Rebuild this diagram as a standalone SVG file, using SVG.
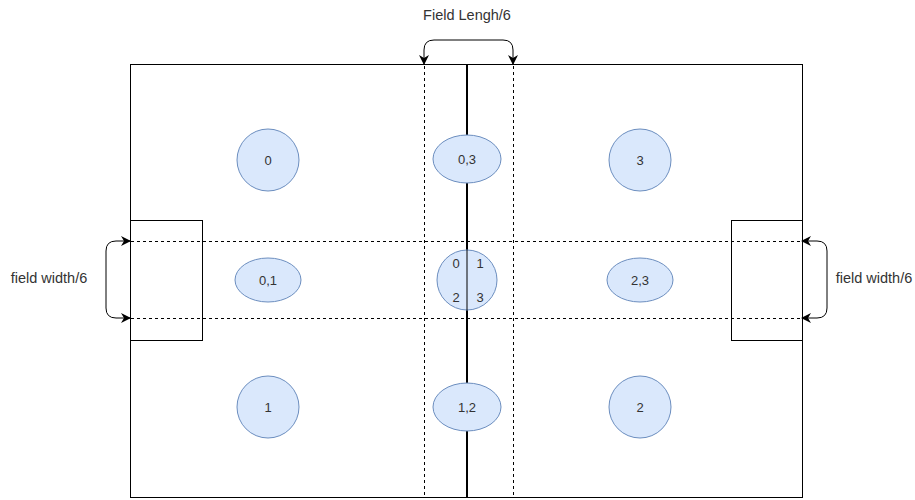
<svg xmlns="http://www.w3.org/2000/svg" width="915" height="500" viewBox="0 0 915 500">
<defs>
<style>
.ln{fill:none;stroke:#000;stroke-width:1}
.dash{fill:none;stroke:#000;stroke-width:1;stroke-dasharray:3 3}
.nd{fill:#dae8fc;stroke:#6c8ebf;stroke-width:1}
.t{font-family:"Liberation Sans",Arial,sans-serif;font-size:13px;fill:#333;text-anchor:middle;dominant-baseline:central}
.lbl{font-family:"Liberation Sans",Arial,sans-serif;font-size:14.5px;fill:#333;text-anchor:middle;dominant-baseline:central}
</style>
<marker id="ah" viewBox="0 0 10 10" refX="9" refY="5" markerWidth="10" markerHeight="10" orient="auto-start-reverse" markerUnits="userSpaceOnUse">
<path d="M0,0 L10,5 L0,10 L3,5 Z" fill="#000"/>
</marker>
</defs>
<rect width="915" height="500" fill="#fff"/>
<g id="field">
<rect x="130.5" y="64.5" width="672" height="433" class="ln"/>
<rect x="130.5" y="220.5" width="72" height="120" class="ln"/>
<rect x="731.5" y="220.5" width="71" height="120" class="ln"/>
<line x1="467" y1="64" x2="467" y2="497" stroke="#000" stroke-width="2"/>
</g>
<g id="connectors">
<line x1="424.5" y1="66" x2="424.5" y2="497" class="dash"/>
<line x1="513.5" y1="66" x2="513.5" y2="497" class="dash"/>
<line x1="131" y1="241.5" x2="802" y2="241.5" class="dash"/>
<line x1="131" y1="318.5" x2="802" y2="318.5" class="dash"/>
<path d="M424,64 L424,50 Q424,40 434,40 L503,40 Q513,40 513,50 L513,64" class="ln" marker-start="url(#ah)" marker-end="url(#ah)"/>
<path d="M130,241 L116,241 Q106,241 106,251 L106,308 Q106,318 116,318 L130,318" class="ln" marker-start="url(#ah)" marker-end="url(#ah)"/>
<path d="M802,241 L817,241 Q827,241 827,251 L827,308 Q827,318 817,318 L802,318" class="ln" marker-start="url(#ah)" marker-end="url(#ah)"/>
</g>
<g id="label-top"><text x="467" y="15" class="lbl">Field Lengh/6</text></g>
<g id="label-left"><text x="49" y="278" class="lbl">field width/6</text></g>
<g id="label-right"><text x="874" y="278" class="lbl">field width/6</text></g>
<g id="n0"><circle cx="268" cy="160" r="31" class="nd"/><text x="268" y="160" class="t">0</text></g>
<g id="n03"><ellipse cx="467" cy="159" rx="34" ry="24" class="nd"/><text x="467" y="159" class="t">0,3</text></g>
<g id="n3"><circle cx="640" cy="160" r="31" class="nd"/><text x="640" y="160" class="t">3</text></g>
<g id="n01"><ellipse cx="268" cy="280" rx="33" ry="22" class="nd"/><text x="268" y="280" class="t">0,1</text></g>
<g id="n0123"><circle cx="467" cy="280" r="30" class="nd"/><line x1="467" y1="250" x2="467" y2="310" stroke="#000" stroke-width="1"/>
<text x="456" y="263" class="t">0</text><text x="480" y="263" class="t">1</text><text x="456" y="297" class="t">2</text><text x="480" y="297" class="t">3</text></g>
<g id="n23"><ellipse cx="640" cy="280" rx="33" ry="22" class="nd"/><text x="640" y="280" class="t">2,3</text></g>
<g id="n1"><circle cx="268" cy="407" r="31" class="nd"/><text x="268" y="407" class="t">1</text></g>
<g id="n12"><ellipse cx="467" cy="407" rx="34" ry="24" class="nd"/><text x="467" y="407" class="t">1,2</text></g>
<g id="n2"><circle cx="640" cy="407" r="31" class="nd"/><text x="640" y="407" class="t">2</text></g>
</svg>
